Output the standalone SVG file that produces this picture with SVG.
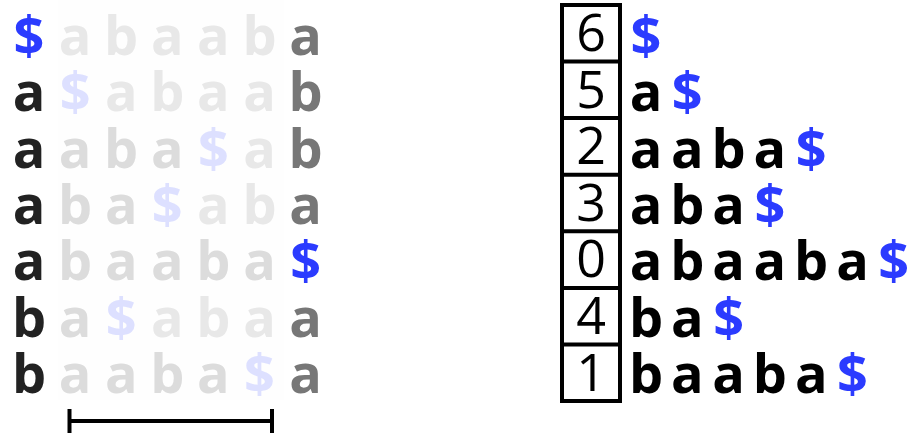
<svg xmlns="http://www.w3.org/2000/svg" width="915" height="437" viewBox="0 0 915 437">
<style>
text{font-family:"Open Sans","Liberation Sans",sans-serif;font-weight:700;font-size:54px;text-anchor:middle}
.dk{fill:#222}.gr{fill:#777}.l1{fill:#dcdcdc}.l2{fill:#e8e8e8}.bl{fill:#2b3bff}.fb{fill:#dde0ff}.k{fill:#000}
text.num{font-weight:400;font-size:52px;fill:#000}
.box{fill:none;stroke:#000;stroke-width:4}
</style>
<rect x="58" y="0" width="226" height="400" fill="#fefefe"/>
<g id="matrix">
<g id="row0"><text x="29" y="55" class="bl">$</text><text x="75.1" y="55" class="l2">a</text><text x="121.2" y="55" class="l2">b</text><text x="167.3" y="55" class="l2">a</text><text x="213.4" y="55" class="l2">a</text><text x="259.5" y="55" class="l2">b</text><text x="305.6" y="55" class="gr">a</text></g>
<g id="row1"><text x="29" y="111.3" class="dk">a</text><text x="75.1" y="111.3" class="fb">$</text><text x="121.2" y="111.3" class="l2">a</text><text x="167.3" y="111.3" class="l2">b</text><text x="213.4" y="111.3" class="l2">a</text><text x="259.5" y="111.3" class="l2">a</text><text x="305.6" y="111.3" class="gr">b</text></g>
<g id="row2"><text x="29" y="167.6" class="dk">a</text><text x="75.1" y="167.6" class="l1">a</text><text x="121.2" y="167.6" class="l1">b</text><text x="167.3" y="167.6" class="l1">a</text><text x="213.4" y="167.6" class="fb">$</text><text x="259.5" y="167.6" class="l2">a</text><text x="305.6" y="167.6" class="gr">b</text></g>
<g id="row3"><text x="29" y="223.9" class="dk">a</text><text x="75.1" y="223.9" class="l1">b</text><text x="121.2" y="223.9" class="l1">a</text><text x="167.3" y="223.9" class="fb">$</text><text x="213.4" y="223.9" class="l2">a</text><text x="259.5" y="223.9" class="l2">b</text><text x="305.6" y="223.9" class="gr">a</text></g>
<g id="row4"><text x="29" y="280.2" class="dk">a</text><text x="75.1" y="280.2" class="l1">b</text><text x="121.2" y="280.2" class="l1">a</text><text x="167.3" y="280.2" class="l1">a</text><text x="213.4" y="280.2" class="l1">b</text><text x="259.5" y="280.2" class="l1">a</text><text x="305.6" y="280.2" class="bl">$</text></g>
<g id="row5"><text x="29" y="336.5" class="dk">b</text><text x="75.1" y="336.5" class="l1">a</text><text x="121.2" y="336.5" class="fb">$</text><text x="167.3" y="336.5" class="l2">a</text><text x="213.4" y="336.5" class="l2">b</text><text x="259.5" y="336.5" class="l2">a</text><text x="305.6" y="336.5" class="gr">a</text></g>
<g id="row6"><text x="29" y="392.8" class="dk">b</text><text x="75.1" y="392.8" class="l1">a</text><text x="121.2" y="392.8" class="l1">a</text><text x="167.3" y="392.8" class="l1">b</text><text x="213.4" y="392.8" class="l1">a</text><text x="259.5" y="392.8" class="fb">$</text><text x="305.6" y="392.8" class="gr">a</text></g>
</g>
<g id="bracket" fill="none" stroke="#000" stroke-width="4">
<line x1="69.5" y1="421" x2="272" y2="421"/>
<line x1="69.5" y1="409" x2="69.5" y2="433"/>
<line x1="272" y1="409" x2="272" y2="433"/>
</g>
<g id="suffix-array">
<rect class="box" x="562" y="5" width="58" height="396"/>
<g fill="none" stroke="#000" stroke-width="4">
<line x1="562" y1="61.6" x2="620" y2="61.6"/>
<line x1="562" y1="118.1" x2="620" y2="118.1"/>
<line x1="562" y1="174.7" x2="620" y2="174.7"/>
<line x1="562" y1="231.3" x2="620" y2="231.3"/>
<line x1="562" y1="287.9" x2="620" y2="287.9"/>
<line x1="562" y1="344.4" x2="620" y2="344.4"/>
</g>
<text class="num" x="591" y="51">6</text>
<text class="num" x="591" y="107.6">5</text>
<text class="num" x="591" y="164.2">2</text>
<text class="num" x="591" y="220.8">3</text>
<text class="num" x="591" y="277.4">0</text>
<text class="num" x="591" y="334">4</text>
<text class="num" x="591" y="390.6">1</text>
</g>
<g id="suffixes">
<g id="s6"><text x="646" y="55" class="bl">$</text></g>
<g id="s5"><text x="646" y="111.3" class="k">a</text><text x="687.3" y="111.3" class="bl">$</text></g>
<g id="s2"><text x="646" y="167.6" class="k">a</text><text x="687.3" y="167.6" class="k">a</text><text x="728.6" y="167.6" class="k">b</text><text x="769.9" y="167.6" class="k">a</text><text x="811.2" y="167.6" class="bl">$</text></g>
<g id="s3"><text x="646" y="223.9" class="k">a</text><text x="687.3" y="223.9" class="k">b</text><text x="728.6" y="223.9" class="k">a</text><text x="769.9" y="223.9" class="bl">$</text></g>
<g id="s0"><text x="646" y="280.2" class="k">a</text><text x="687.3" y="280.2" class="k">b</text><text x="728.6" y="280.2" class="k">a</text><text x="769.9" y="280.2" class="k">a</text><text x="811.2" y="280.2" class="k">b</text><text x="852.5" y="280.2" class="k">a</text><text x="893.8" y="280.2" class="bl">$</text></g>
<g id="s4"><text x="646" y="336.5" class="k">b</text><text x="687.3" y="336.5" class="k">a</text><text x="728.6" y="336.5" class="bl">$</text></g>
<g id="s1"><text x="646" y="392.8" class="k">b</text><text x="687.3" y="392.8" class="k">a</text><text x="728.6" y="392.8" class="k">a</text><text x="769.9" y="392.8" class="k">b</text><text x="811.2" y="392.8" class="k">a</text><text x="852.5" y="392.8" class="bl">$</text></g>
</g>
</svg>
